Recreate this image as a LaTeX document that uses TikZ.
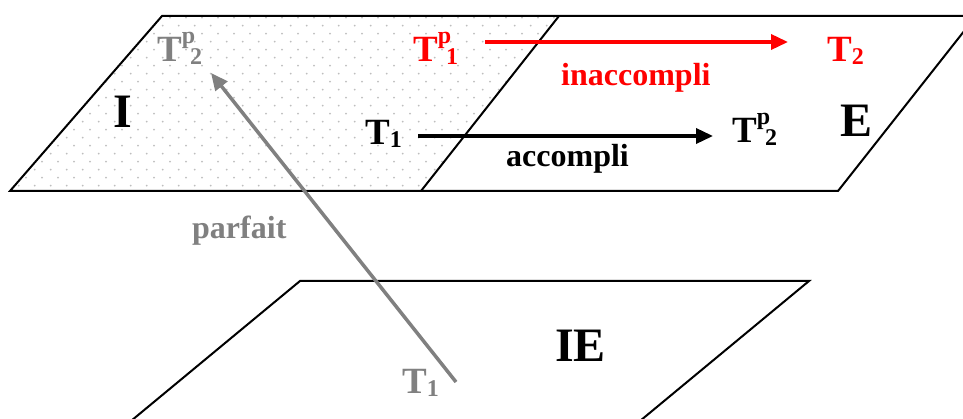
\documentclass[tikz,border=0pt]{standalone}
\usepackage{fontspec}
\setmainfont{Liberation Serif}
\usetikzlibrary{arrows.meta}
\definecolor{tgray}{RGB}{128,128,128}
\definecolor{tred}{RGB}{255,0,0}
\definecolor{dotgray}{RGB}{190,190,190}
\newcommand\scrsize{\fontsize{24}{24}\selectfont}
\newcommand\Tsp[1]{T\raisebox{18pt}{\scrsize p}\kern-5pt\raisebox{-3pt}{\scrsize #1}}
\newcommand\Tsb[1]{T\raisebox{-3pt}{\scrsize #1}}
\begin{document}
\begin{tikzpicture}[x=1pt,y=-1pt,
  lbl/.style={font=\bfseries\fontsize{32}{34}\selectfont, anchor=base west, inner sep=0pt},
  tt/.style={font=\bfseries\fontsize{37}{40}\selectfont, anchor=base west, inner sep=0pt},
  bigl/.style={font=\bfseries\fontsize{48}{50}\selectfont, anchor=base west, inner sep=0pt},
  plane/.style={draw=black, line width=2pt, line join=miter},
  arr/.style={line width=3.5pt, -{Triangle[length=17pt,width=15pt]}}]
\clip (0,0) rectangle (963,419);
\fill[white] (0,0) rectangle (963,419);
% dotted region I
\begin{scope}
\clip (162,16) -- (559,16) -- (421,191) -- (10,191) -- cycle;
\foreach \j in {0,...,24} {
  \pgfmathsetmacro{\off}{mod(\j,2)==0 ? 10 : 2.7}
  \foreach \i in {0,...,36} {
    \fill[dotgray] ({\off+16*\i},{1.7+8*\j}) circle (1);
  }
}
\end{scope}
% planes
\draw[plane] (162,16) -- (976,16) -- (838,191) -- (10,191) -- cycle;
\draw[plane] (559,16) -- (421,191);
\draw[plane] (108,440) -- (300,281) -- (809,281) -- (617,440);
% labels
\node[tt, text=tgray] (tp2g) at (157,62) {\Tsp{2}};
\node[tt, text=tred] (tp1) at (413,62) {\Tsp{1}};
\node[tt, text=tred] (t2) at (827,62) {\Tsb{2}};
\node[lbl, text=tred] (inacc) at (561,86) {inaccompli};
\node[tt] (t1) at (365,145) {\Tsb{1}};
\node[tt] (tp2) at (732,143) {\Tsp{2}};
\node[lbl] (acc) at (506,167) {accompli};
\node[bigl] (I) at (113,128) {I};
\node[bigl] (E) at (840,137) {E};
\node[bigl] (IE) at (555,361) {IE};
\node[lbl, text=tgray] (parf) at (192,239) {parfait};
\node[tt, text=tgray] (t1g) at (402,393) {\Tsb{1}};
% connectors
\coordinate (r0) at (485,42);
\coordinate (r1) at (788,42);
\coordinate (b0) at (418,136);
\coordinate (b1) at (713,136);
\coordinate (g0) at (456,382);
\coordinate (g1) at (211,73);
\draw[arr, tred] (r0) -- (r1);
\draw[arr, black] (b0) -- (b1);
\draw[arr, tgray] (g0) -- (g1);
\end{tikzpicture}
\end{document}
